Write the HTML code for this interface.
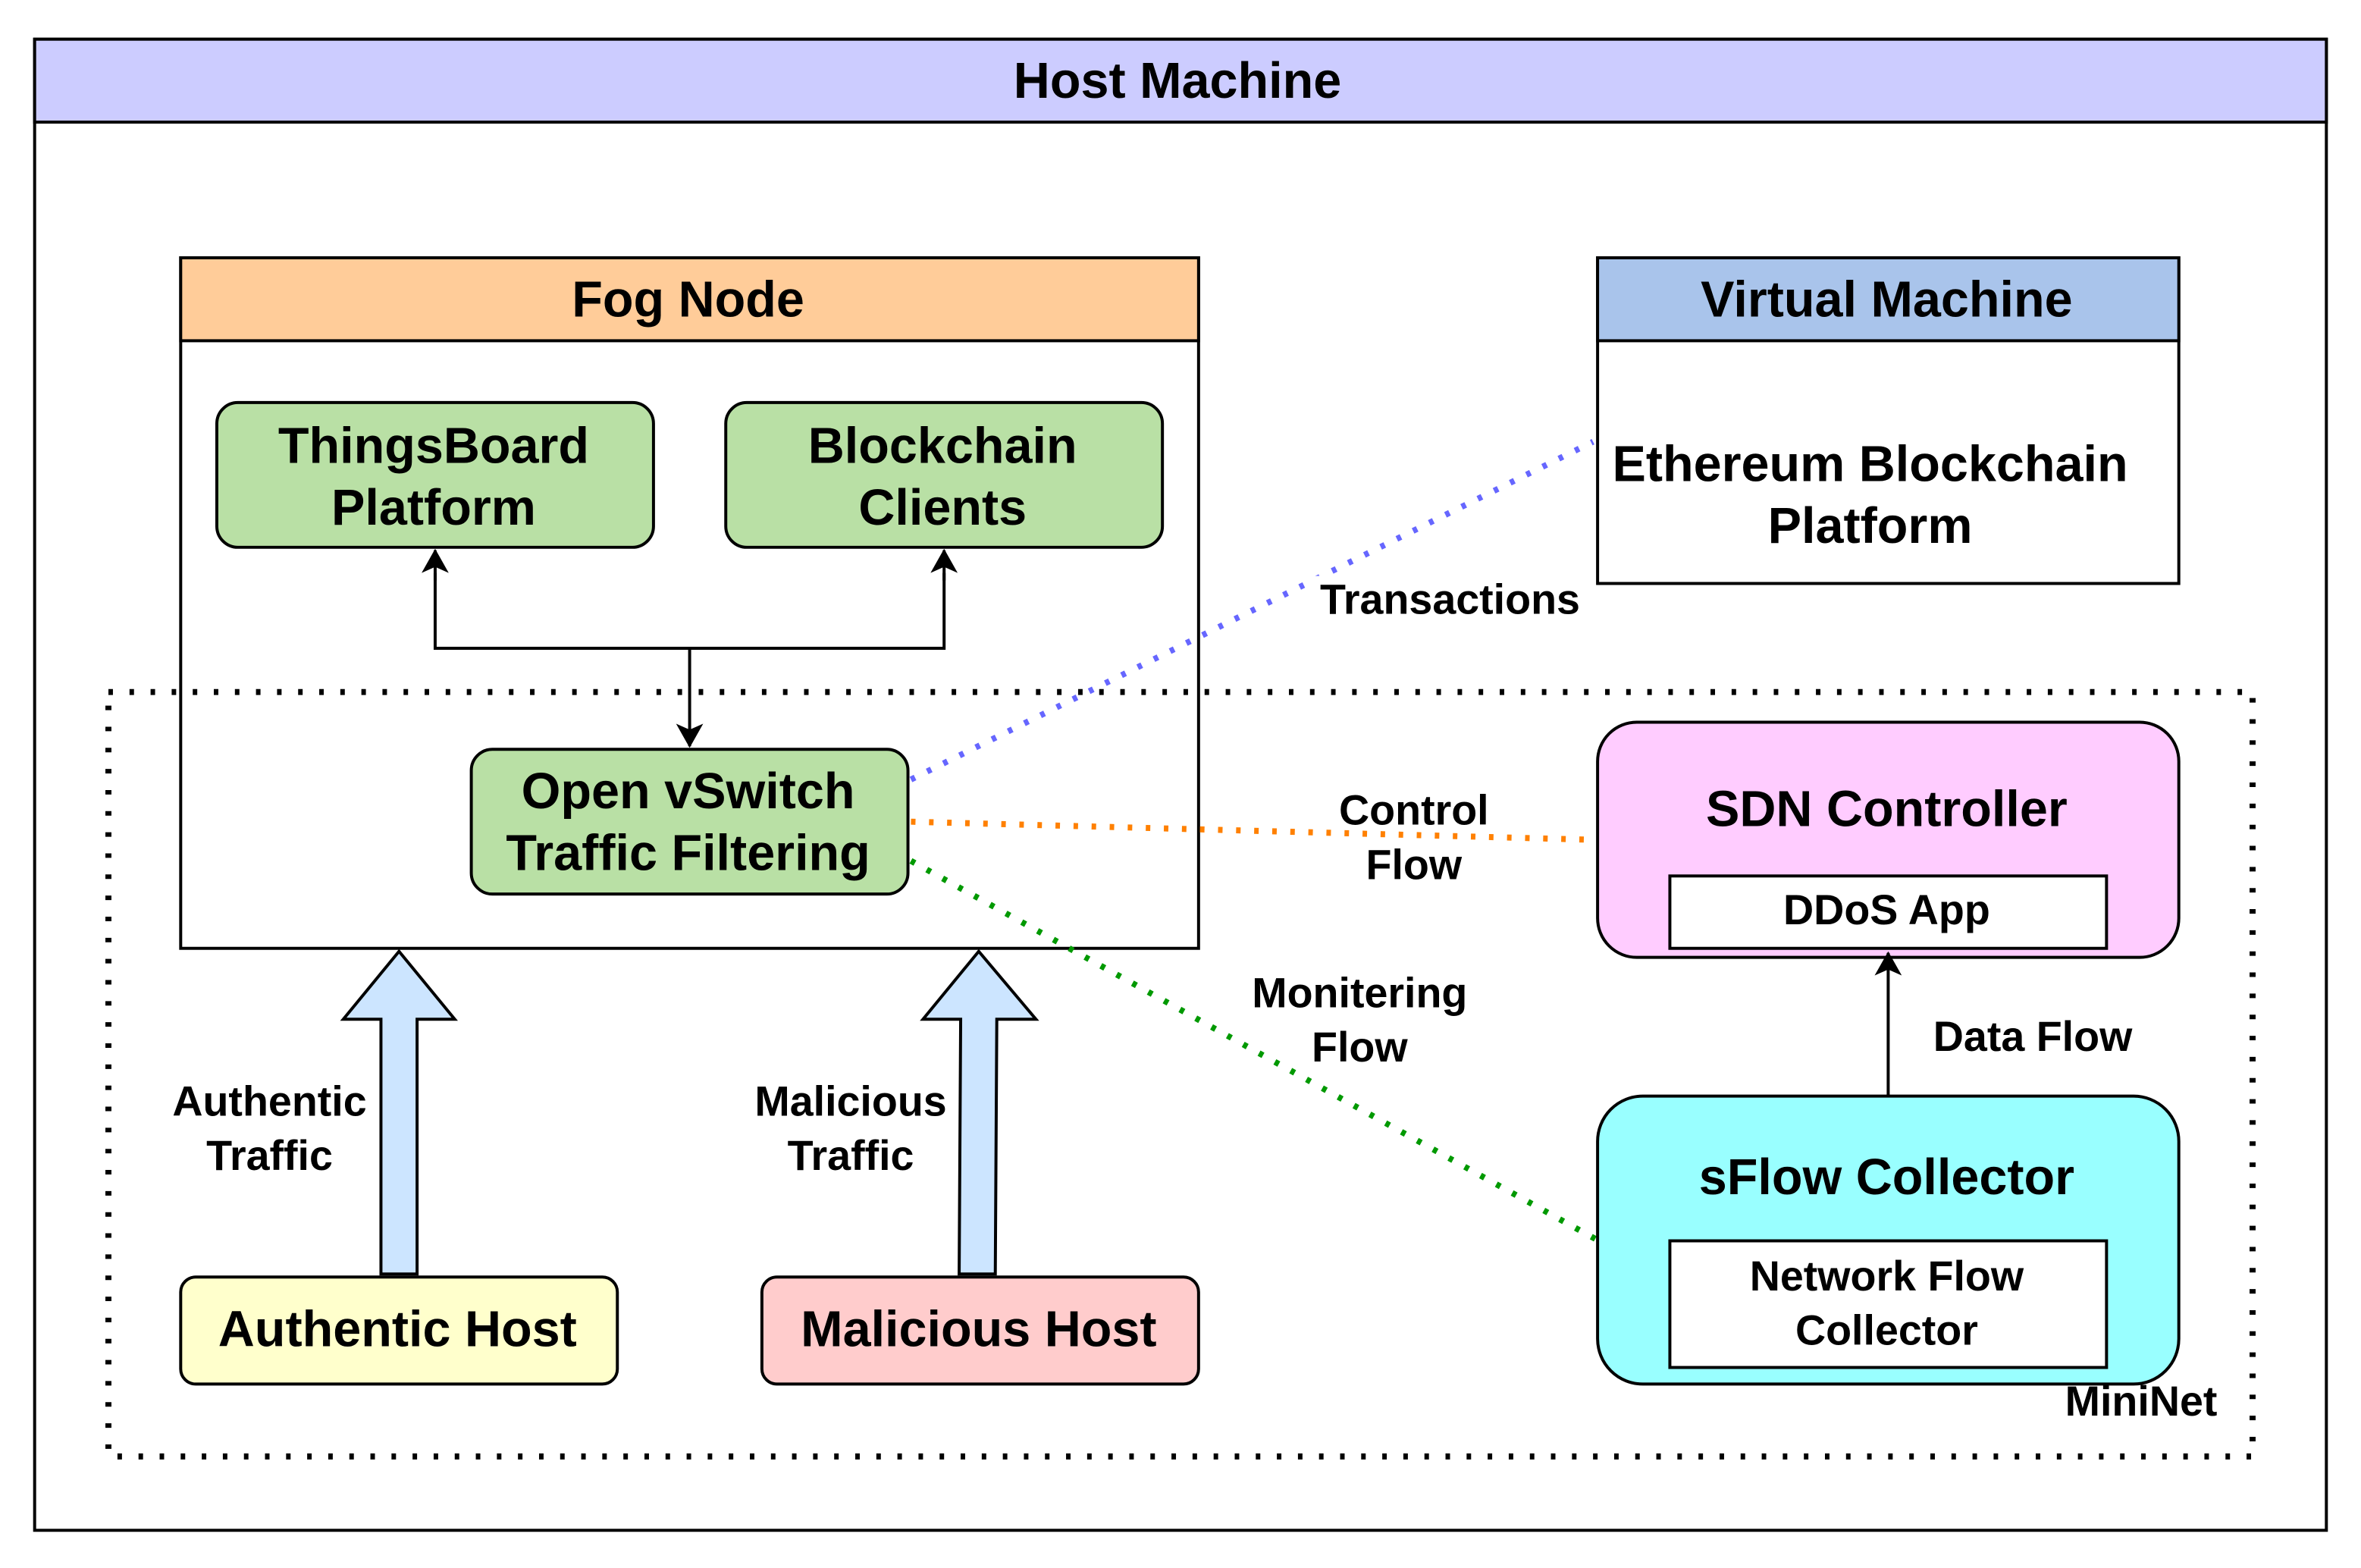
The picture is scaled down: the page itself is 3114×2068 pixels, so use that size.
<!DOCTYPE html>
<html><head><style>html,body{margin:0;padding:0;background:#fff}svg{display:block}</style></head>
<body>
<svg width="3114" height="2068" viewBox="0 0 1568 1040" preserveAspectRatio="none" xmlns="http://www.w3.org/2000/svg" font-family="Liberation Sans, sans-serif" font-weight="bold">
<defs>
<marker id="ar" markerWidth="16" markerHeight="18" refX="15" refY="9" orient="auto" markerUnits="userSpaceOnUse"><path d="M0,0 L16,9 L0,18 L4,9 Z" fill="#000"/></marker>
</defs>
<rect x="0" y="0" width="1568" height="1040" fill="#fff"/>
<rect x="23" y="26" width="1522" height="989" fill="#fff" stroke="#000" stroke-width="2"/>
<rect x="23" y="26" width="1522" height="55" fill="#ccccff" stroke="#000" stroke-width="2"/>
<text x="782" y="65" font-size="33.5" text-anchor="middle">Host Machine</text>
<rect x="120" y="171" width="676" height="458" fill="#fff" stroke="#000" stroke-width="2"/>
<rect x="120" y="171" width="676" height="55" fill="#ffcc99" stroke="#000" stroke-width="2"/>
<text x="457" y="210" font-size="33.5" text-anchor="middle">Fog Node</text>
<rect x="72" y="459" width="1424" height="507" fill="none" stroke="#000" stroke-width="4" stroke-dasharray="3,11"/>
<text x="1422" y="939" font-size="28" text-anchor="middle">MiniNet</text>
<rect x="144" y="267" width="290" height="96" rx="14" fill="#b9e0a5" stroke="#000" stroke-width="2"/>
<text x="288" y="307" font-size="33.5" text-anchor="middle">ThingsBoard</text>
<text x="288" y="348" font-size="33.5" text-anchor="middle">Platform</text>
<rect x="482" y="267" width="290" height="96" rx="14" fill="#b9e0a5" stroke="#000" stroke-width="2"/>
<text x="626" y="307" font-size="33.5" text-anchor="middle">Blockchain</text>
<text x="626" y="348" font-size="33.5" text-anchor="middle">Clients</text>
<rect x="313" y="497" width="290" height="96" rx="14" fill="#b9e0a5" stroke="#000" stroke-width="2"/>
<text x="457" y="536" font-size="33.5" text-anchor="middle">Open vSwitch</text>
<text x="457" y="577" font-size="33.5" text-anchor="middle">Traffic Filtering</text>
<path d="M289,380 L289,430 L627,430 L627,380" fill="none" stroke="#000" stroke-width="2"/>
<path d="M289,385 L289,365" stroke="#000" stroke-width="2" marker-end="url(#ar)"/>
<path d="M627,385 L627,365" stroke="#000" stroke-width="2" marker-end="url(#ar)"/>
<path d="M458,430 L458,495" stroke="#000" stroke-width="2" marker-end="url(#ar)"/>
<rect x="1061" y="171" width="386" height="216" fill="#fff" stroke="#000" stroke-width="2"/>
<rect x="1061" y="171" width="386" height="55" fill="#a9c4eb" stroke="#000" stroke-width="2"/>
<text x="1253" y="210" font-size="33.5" text-anchor="middle">Virtual Machine</text>
<text x="1242" y="319" font-size="33.5" text-anchor="middle">Ethereum Blockchain</text>
<text x="1242" y="360" font-size="33.5" text-anchor="middle">Platform</text>
<path d="M605,517 L1058,293" stroke="#6666ff" stroke-width="4" stroke-dasharray="3,9"/>
<path d="M605,545 L1058,557" stroke="#ff8000" stroke-width="4" stroke-dasharray="3,9"/>
<path d="M605,571 L1060,822" stroke="#009900" stroke-width="4" stroke-dasharray="3,9"/>
<rect x="873" y="382" width="180" height="30" fill="#fff"/>
<text x="963" y="407" font-size="28" text-anchor="middle">Transactions</text>
<text x="939" y="547" font-size="28" text-anchor="middle">Control</text>
<text x="939" y="583" font-size="28" text-anchor="middle">Flow</text>
<text x="903" y="668" font-size="28" text-anchor="middle">Monitering</text>
<text x="903" y="704" font-size="28" text-anchor="middle">Flow</text>
<rect x="1061" y="479" width="386" height="156" rx="26" fill="#ffccff" stroke="#000" stroke-width="2"/>
<text x="1253" y="548" font-size="33.5" text-anchor="middle">SDN Controller</text>
<rect x="1109" y="581" width="290" height="48" fill="#fff" stroke="#000" stroke-width="2"/>
<text x="1253" y="613" font-size="28" text-anchor="middle">DDoS App</text>
<rect x="1061" y="727" width="386" height="191" rx="30" fill="#99ffff" stroke="#000" stroke-width="2"/>
<text x="1253" y="792" font-size="33.5" text-anchor="middle">sFlow Collector</text>
<rect x="1109" y="823" width="290" height="84" fill="#fff" stroke="#000" stroke-width="2"/>
<text x="1253" y="856" font-size="28" text-anchor="middle">Network Flow</text>
<text x="1253" y="892" font-size="28" text-anchor="middle">Collector</text>
<path d="M1254,727 L1254,632" stroke="#000" stroke-width="2" marker-end="url(#ar)"/>
<text x="1350" y="697" font-size="28" text-anchor="middle">Data Flow</text>
<rect x="120" y="847" width="290" height="71" rx="10" fill="#ffffcc" stroke="#000" stroke-width="2"/>
<text x="264" y="893" font-size="33.5" text-anchor="middle">Authentic Host</text>
<rect x="506" y="847" width="290" height="71" rx="10" fill="#ffcccc" stroke="#000" stroke-width="2"/>
<text x="650" y="893" font-size="33.5" text-anchor="middle">Malicious Host</text>
<path d="M253,845 L253,676 L228,676 L265,631 L302,676 L277,676 L277,845 Z" fill="#cce5ff" stroke="#000" stroke-width="2"/>
<path d="M637,845 L638,676 L613,676 L650,631 L688,676 L662,676 L661,845 Z" fill="#cce5ff" stroke="#000" stroke-width="2"/>
<text x="179" y="740" font-size="28" text-anchor="middle">Authentic</text>
<text x="179" y="776" font-size="28" text-anchor="middle">Traffic</text>
<text x="565" y="740" font-size="28" text-anchor="middle">Malicious</text>
<text x="565" y="776" font-size="28" text-anchor="middle">Traffic</text>
</svg>
</body></html>
